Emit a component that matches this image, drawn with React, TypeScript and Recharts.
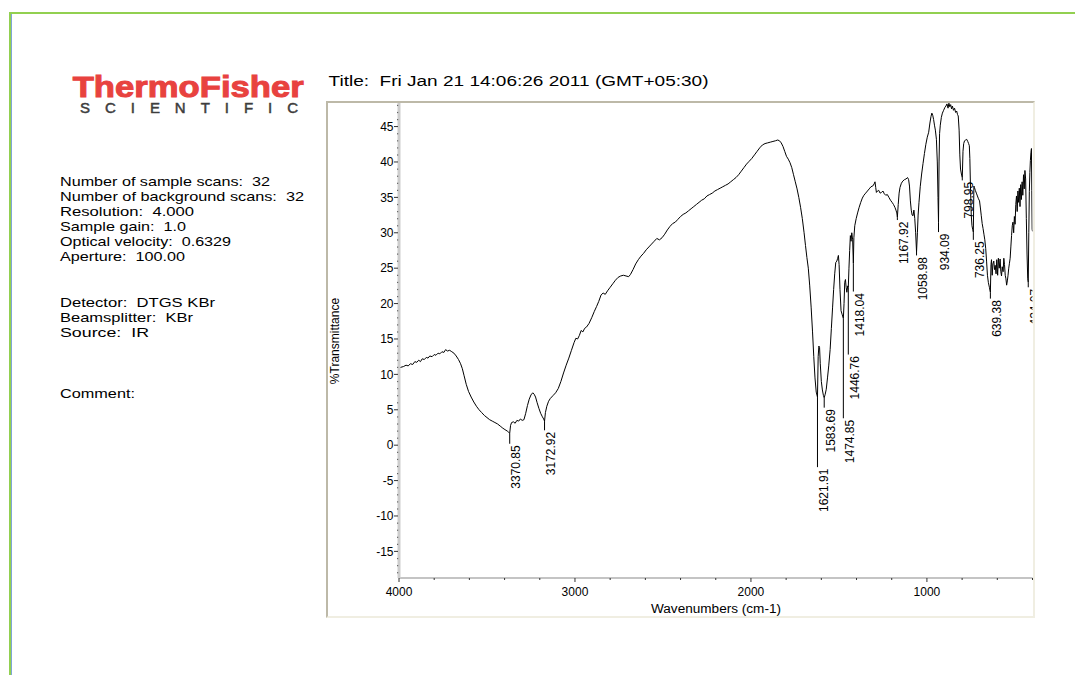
// @ts-nocheck
import { LineChart, Line, XAxis, YAxis, ReferenceLine, ReferenceDot } from 'recharts'

// spectrum (wavenumber cm-1 / %T)
const wavenumbers = [
  4000, 3990, 3975, 3960, 3948, 3935, 3922, 3910, 3899, 3888, 3878, 3868, 3856, 3845, 3835, 3825, 3812, 3800, 3790, 3778,
  3768, 3756, 3745, 3735, 3725, 3712, 3700, 3688, 3675, 3662, 3650, 3640, 3630, 3618, 3605, 3590, 3575, 3560, 3545, 3530,
  3515, 3500, 3485, 3470, 3455, 3440, 3425, 3410, 3398, 3385, 3376, 3370.85, 3366, 3360, 3350, 3340, 3330, 3320, 3310, 3300,
  3290, 3280, 3270, 3260, 3250, 3240, 3232, 3224, 3215, 3205, 3195, 3185, 3178, 3172.92, 3168, 3160, 3150, 3140, 3125, 3110,
  3095, 3080, 3065, 3050, 3035, 3020, 3005, 2995, 2985, 2975, 2965, 2955, 2945, 2934, 2920, 2905, 2890, 2877, 2865, 2852,
  2840, 2828, 2815, 2800, 2785, 2770, 2755, 2740, 2725, 2710, 2695, 2685, 2670, 2655, 2640, 2625, 2610, 2595, 2580, 2565,
  2550, 2535, 2520, 2505, 2490, 2475, 2460, 2445, 2430, 2415, 2400, 2385, 2370, 2355, 2340, 2325, 2310, 2295, 2280, 2265,
  2250, 2235, 2220, 2205, 2190, 2175, 2160, 2145, 2130, 2115, 2100, 2085, 2070, 2055, 2040, 2025, 2010, 1995, 1980, 1965,
  1950, 1935, 1920, 1905, 1890, 1875, 1860, 1848, 1838, 1828, 1818, 1808, 1798, 1788, 1778, 1768, 1758, 1748, 1738, 1728,
  1718, 1708, 1698, 1690, 1682, 1674, 1666, 1658, 1650, 1643, 1636, 1629, 1621.91, 1618, 1614, 1610, 1606, 1600, 1594, 1588,
  1583.69, 1578, 1572, 1565, 1558, 1550, 1543, 1536, 1530, 1524, 1518, 1512, 1507, 1503, 1499, 1494, 1488, 1481, 1474.85, 1471,
  1467, 1463, 1459, 1455, 1450, 1446.76, 1443, 1439, 1435, 1431, 1427, 1422, 1418.04, 1415, 1410, 1402, 1394, 1385, 1376, 1367,
  1358, 1348, 1338, 1328, 1318, 1308, 1300, 1295, 1291, 1287, 1281, 1274, 1266, 1258, 1250, 1242, 1234, 1225, 1216, 1207,
  1198, 1190, 1182, 1176, 1171, 1167.92, 1163, 1158, 1153, 1145, 1137, 1128, 1119, 1110, 1104, 1099, 1094, 1089, 1084, 1079,
  1074, 1069, 1064, 1058.98, 1054, 1050, 1045, 1038, 1030, 1022, 1014, 1006, 998, 990, 983, 977, 972, 967, 962, 957,
  952, 946, 941, 937, 934.09, 931, 928, 924, 918, 912, 905, 898, 892, 886, 880, 875, 870, 865, 860, 855,
  849, 843, 837, 831, 826, 822, 817, 813, 809, 804, 798.95, 795, 791, 786, 780, 774, 768, 763, 759, 756,
  752, 748, 744, 740, 736.25, 733, 730, 725, 719, 713, 707, 701, 696, 691, 686, 681, 676, 671, 666, 661,
  656, 651, 645, 639.38, 636, 633, 629, 625, 620, 616, 612, 607, 603, 598, 594, 589, 584, 580, 576, 572,
  567, 563, 559, 555, 551, 547, 543, 539, 535, 531, 527, 523, 519, 515, 511, 507, 503, 499, 495, 491,
  487, 483, 479, 475, 471, 467, 463, 459, 455, 451, 447, 443, 439, 435, 431, 427, 424.07, 421, 418, 415,
  412, 409, 406, 404, 402, 400,
]
const transmittance = [
  10.8, 11.0, 11.1, 11.3, 11.2, 11.5, 11.4, 11.8, 11.7, 12.0, 11.8, 12.2, 12.1, 12.4, 12.3, 12.6, 12.5, 12.8, 12.7, 13.0,
  12.9, 13.2, 13.1, 13.5, 13.3, 13.4, 13.2, 13.0, 12.6, 12.1, 11.5, 10.8, 9.8, 8.6, 7.6, 6.8, 6.1, 5.5, 5.0, 4.6,
  4.2, 3.9, 3.6, 3.4, 3.2, 3.0, 2.7, 2.4, 2.2, 2.0, 1.8, 1.7, 2.8, 3.2, 3.3, 3.1, 3.5, 3.4, 3.7, 3.5,
  3.6, 4.5, 5.6, 6.5, 7.1, 7.4, 7.2, 6.8, 6.0, 5.2, 4.5, 4.0, 3.7, 3.4, 4.6, 5.5, 6.2, 6.6, 7.0, 7.4,
  8.0, 9.0, 10.2, 11.3, 12.3, 13.4, 14.5, 15.1, 15.0, 15.5, 16.2, 16.0, 16.5, 16.7, 17.2, 18.0, 18.9, 19.6, 20.3, 21.2,
  21.5, 21.3, 21.8, 22.3, 22.8, 23.3, 23.7, 23.9, 24.0, 23.9, 23.8, 24.1, 24.8, 25.6, 26.2, 26.7, 27.1, 27.6, 28.0, 28.4,
  28.8, 29.2, 29.0, 29.3, 29.8, 30.4, 30.9, 31.3, 31.5, 31.9, 32.3, 32.6, 32.8, 33.1, 33.4, 33.7, 34.0, 34.3, 34.6, 34.8,
  35.2, 35.4, 35.6, 35.9, 36.1, 36.3, 36.5, 36.7, 36.9, 37.2, 37.5, 37.8, 38.2, 38.7, 39.2, 39.7, 40.1, 40.5, 41.0, 41.5,
  42.0, 42.4, 42.6, 42.7, 42.8, 42.9, 43.0, 43.1, 43.0, 42.7, 42.2, 41.5, 40.8, 40.4, 39.9, 39.2, 38.2, 37.2, 36.2, 35.0,
  33.6, 32.0, 30.0, 28.2, 26.5, 25.0, 22.5, 19.5, 16.0, 12.5, 9.5, 7.5, 6.8, 12.5, 14.0, 13.8, 11.5, 9.0, 7.8, 7.0,
  6.7, 7.2, 7.9, 9.5, 11.2, 13.5, 16.5, 19.5, 22.0, 24.2, 25.8, 26.0, 26.4, 26.8, 25.5, 22.0, 19.0, 18.4, 17.9, 20.0,
  23.0, 23.4, 22.3, 21.6, 22.5, 22.3, 25.0, 27.5, 29.6, 28.8, 30.0, 29.0, 25.7, 29.3, 31.0, 32.0, 32.8, 33.6, 34.3, 34.9,
  35.3, 35.6, 35.9, 36.2, 36.5, 36.6, 36.9, 37.2, 36.4, 35.7, 35.9, 36.0, 35.6, 35.7, 35.9, 35.5, 35.3, 35.4, 35.0, 34.6,
  34.3, 34.0, 33.6, 33.2, 32.8, 32.2, 34.0, 35.6, 36.4, 37.0, 37.3, 37.5, 37.6, 37.8, 37.5, 36.6, 34.5, 33.2, 32.5, 32.4,
  33.2, 32.0, 30.0, 27.3, 30.0, 32.5, 34.3, 36.5, 38.3, 39.8, 41.2, 42.5, 43.5, 44.2, 45.5, 46.4, 46.9, 46.6, 46.0, 45.2,
  44.5, 43.2, 40.0, 35.0, 31.5, 40.0, 44.0, 45.2, 46.3, 46.9, 47.3, 47.7, 47.9, 48.2, 47.6, 48.3, 47.8, 48.1, 47.5, 47.9,
  47.3, 47.6, 47.0, 47.2, 46.7, 46.5, 44.5, 41.0, 39.0, 38.3, 37.8, 41.5, 42.6, 43.0, 43.1, 43.2, 42.9, 42.6, 42.3, 40.5,
  36.0, 32.5, 31.0, 30.5, 30.1, 36.6, 36.4, 36.0, 35.6, 35.2, 34.8, 34.5, 33.5, 32.4, 31.3, 30.6, 29.8, 29.0, 27.8, 26.0,
  24.0, 23.0, 22.3, 21.6, 25.5, 26.2, 24.0, 25.6, 26.0, 24.8, 25.4, 24.2, 26.2, 24.0, 26.4, 25.0, 26.3, 24.5, 23.9, 25.2,
  24.5, 26.4, 25.5, 24.0, 23.5, 22.6, 23.2, 24.0, 25.0, 25.7, 26.4, 28.0, 29.6, 31.0, 31.5, 30.0, 32.3, 31.2, 34.0, 35.2,
  33.0, 35.9, 34.3, 36.3, 33.7, 36.8, 34.7, 37.2, 35.3, 38.2, 36.2, 38.8, 37.6, 32.0, 27.0, 23.5, 23.0, 30.0, 35.8, 38.5,
  40.2, 41.3, 41.9, 36.0, 30.5, 30.2,
]

// peak picks: position, curve minimum, end of marker line
const peakLabels = ['3370.85', '3172.92', '1621.91', '1583.69', '1474.85', '1446.76', '1418.04', '1167.92', '1058.98', '934.09', '798.95', '736.25', '639.38', '424.07']
const peakWn = [3370.85, 3172.92, 1621.91, 1583.69, 1474.85, 1446.76, 1418.04, 1167.92, 1058.98, 934.09, 798.95, 736.25, 639.38, 424.07]
const peakT = [1.7, 3.4, 6.8, 6.7, 17.9, 22.3, 25.7, 32.2, 27.3, 31.5, 37.8, 30.1, 21.6, 23.0]
const peakLabelT = [0.2, 2.1, -3.1, 5.3, 3.8, 12.8, 21.7, 31.8, 26.8, 30.1, 37.4, 29.0, 20.7, 22.3]

const xMajor = [4000, 3000, 2000, 1000]
const yMajor = [45, 40, 35, 30, 25, 20, 15, 10, 5, 0, -5, -10, -15]
const xTicks = Array.from({ length: 19 }, (_, i) => 4000 - i * 200)
const yTicks = Array.from({ length: 67 }, (_, i) => 48 - i)

const infoLines = [
  'Number of sample scans:  32',
  'Number of background scans:  32',
  'Resolution:  4.000',
  'Sample gain:  1.0',
  'Optical velocity:  0.6329',
  'Aperture:  100.00',
  'Detector:  DTGS KBr',
  'Beamsplitter:  KBr',
  'Source:  IR',
  'Comment:',
]
const infoY = [186, 200.5, 215.5, 230.5, 245.5, 261, 307, 322, 337, 398]
const infoW = [210, 244, 134, 126, 171, 125, 155, 133, 89, 75]

const data = wavenumbers.map((wn, i) => ({ wn, t: transmittance[i] }))
const FONT = '"Liberation Sans", Arial, sans-serif'

const YTick = ({ x, y, payload }) => {
  const v = payload.value
  const major = yMajor.includes(v)
  return (
    <g>
      {major
        ? <line x1={x - 5} x2={x - 1} y1={y} y2={y} stroke="#333" strokeWidth={1} />
        : <rect x={x - 2} y={y - 0.5} width={1.2} height={1.2} fill="#666" />}
      {major && <text x={x - 5.5} y={y} dy={4.3} textAnchor="end" fontSize={12} fontFamily={FONT} fill="#000">{v}</text>}
    </g>
  )
}

const XTick = ({ x, y, payload }) => {
  const v = payload.value
  const major = xMajor.includes(v)
  return (
    <g>
      <line x1={x} x2={x} y1={y} y2={y + (major ? 4 : 2)} stroke="#333" strokeWidth={1} />
      {major && <text x={x} y={y + 17.5} textAnchor="middle" fontSize={12} fontFamily={FONT} fill="#000">{v}</text>}
    </g>
  )
}

// plot box inside the chart svg, used to cut the label at the right edge like OMNIC does
const PeakText = ({ cx, cy, text }) => (
  <g>
    <defs>
      <clipPath id="peakClip"><rect x={73} y={2} width={633.5} height={475} /></clipPath>
    </defs>
    <g clipPath="url(#peakClip)">
      <text x={cx + 10.5} y={cy + 1.5} transform={`rotate(-90 ${cx + 10.5} ${cy + 1.5})`} textAnchor="end"
        fontSize={12} fontFamily={FONT} fill="#000">{text}</text>
    </g>
  </g>
)

export default function App() {
  return (
    <div style={{ position: 'absolute', left: 0, top: 0, width: 1075, height: 675, background: '#fff', overflow: 'hidden', fontFamily: FONT }}>
      <div style={{ position: 'absolute', left: 9, top: 12, width: 1070, height: 670, borderTop: '2px solid #92d050', borderLeft: '2px solid #92d050' }} />
      <div style={{ position: 'absolute', left: 11, top: 14, width: 1, height: 661, background: '#7fa6d6' }} />

      <svg width={1075} height={675} style={{ position: 'absolute', left: 0, top: 0 }}>
        <text x={72.7} y={96.5} fontSize={30} fontWeight={700} fontFamily={FONT} fill="#e8423f" stroke="#e8423f" strokeWidth={1}
          textLength={231} lengthAdjust="spacingAndGlyphs">ThermoFisher</text>
        <text x={80} y={113} fontSize={15} fontFamily={FONT} fill="#3d3d3d" stroke="#3d3d3d" strokeWidth={0.5}
          textLength={218} lengthAdjust="spacing">SCIENTIFIC</text>
        <text x={328.5} y={85.7} fontSize={14} fontFamily={FONT} fill="#000" textLength={380} lengthAdjust="spacingAndGlyphs" style={{ whiteSpace: 'pre' }}>
          Title:  Fri Jan 21 14:06:26 2011 (GMT+05:30)
        </text>
        {infoLines.map((s, i) => (
          <text key={s} x={60} y={infoY[i]} fontSize={13} fontFamily={FONT} fill="#000" textLength={infoW[i]} lengthAdjust="spacingAndGlyphs" style={{ whiteSpace: 'pre' }}>{s}</text>
        ))}
      </svg>

      <div style={{ position: 'absolute', left: 326, top: 101, width: 709, height: 517, boxSizing: 'border-box', borderTop: '2px solid #bdb9a8', borderLeft: '2px solid #bdb9a8', borderRight: '2px solid #f0eee2', borderBottom: '2px solid #f0eee2' }} />

      <div style={{ position: 'absolute', left: 326, top: 101 }}>
        <LineChart width={709} height={517} data={data} margin={{ top: 2, right: 2.5, bottom: 0, left: 0 }}>
          <XAxis dataKey="wn" type="number" domain={[400, 4000]} reversed allowDataOverflow ticks={xTicks} interval={0}
            height={40} tickSize={0} tickMargin={0} tickLine={false} axisLine={{ stroke: '#c4c4c4', strokeWidth: 2 }}
            tick={(p) => <XTick {...p} />} />
          <YAxis type="number" domain={[-18.76, 48.33]} allowDataOverflow ticks={yTicks} interval={0} width={73}
            tickSize={0} tickMargin={0} tickLine={false} axisLine={{ stroke: '#cdcdcd', strokeWidth: 3 }}
            tick={(p) => <YTick {...p} />} />
          <Line dataKey="t" type="linear" stroke="#000" strokeWidth={1} dot={false} activeDot={false} isAnimationActive={false} />
          {peakWn.map((wn, i) => (
            <ReferenceLine key={'l' + i} segment={[{ x: wn, y: peakT[i] }, { x: wn, y: peakLabelT[i] }]} stroke="#000" strokeWidth={1} />
          ))}
          {peakWn.map((wn, i) => (
            <ReferenceDot key={'d' + i} x={wn} y={peakLabelT[i]} r={0}
              shape={(p) => <PeakText cx={p.cx} cy={p.cy} text={peakLabels[i]} />} />
          ))}
        </LineChart>
      </div>

      <svg width={1075} height={675} style={{ position: 'absolute', left: 0, top: 0, pointerEvents: 'none' }}>
        <text x={338.5} y={341} transform="rotate(-90 338.5 341)" textAnchor="middle" fontSize={12} fontFamily={FONT} fill="#000">%Transmittance</text>
        <text x={716} y={613} textAnchor="middle" fontSize={12} fontFamily={FONT} fill="#000" textLength={130} lengthAdjust="spacingAndGlyphs">Wavenumbers (cm-1)</text>
      </svg>
    </div>
  )
}
